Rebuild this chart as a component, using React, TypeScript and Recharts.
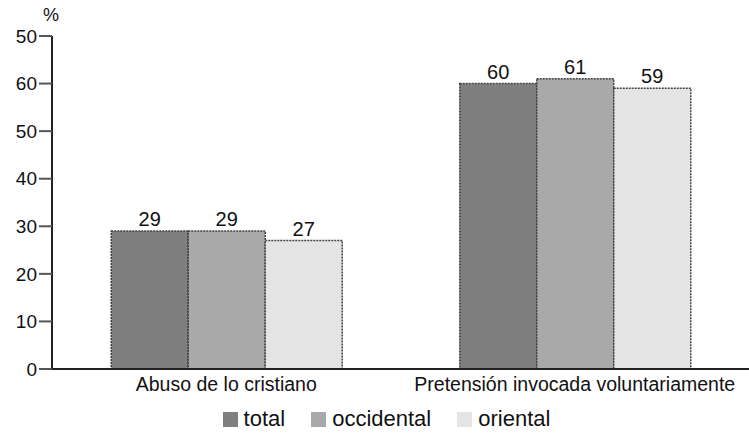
import React from 'react';
import { BarChart, Bar, XAxis, YAxis, LabelList } from 'recharts';

const categories = ['Abuso de lo cristiano', 'Pretensión invocada voluntariamente'];
const total = [29, 60];
const occidental = [29, 61];
const oriental = [27, 59];

const yTicks = [0, 10, 20, 30, 40, 50, 60, 70];
const yTickLabels = ['0', '10', '20', '30', '40', '50', '60', '50'];

const series = [
    { key: 'total', name: 'total', fill: '#7f7f7f' },
    { key: 'occidental', name: 'occidental', fill: '#a9a9a9' },
    { key: 'oriental', name: 'oriental', fill: '#e4e4e4' },
];

const data = categories.map((name, i) => ({
    name,
    total: total[i],
    occidental: occidental[i],
    oriental: oriental[i],
}));

const font = '"Liberation Sans", Arial, sans-serif';

const ChartLegend: React.FC = () => (
    <div style={{ position: 'absolute', left: 12, top: 406, width: 749, display: 'flex', justifyContent: 'center', gap: 26, fontFamily: font, fontSize: 22, color: '#111', lineHeight: '26px' }}>
        {series.map((s) => (
            <span key={s.key} style={{ display: 'flex', alignItems: 'center' }}>
                <span style={{ width: 15, height: 15, background: s.fill, display: 'inline-block', marginRight: 6 }} />
                {s.name}
            </span>
        ))}
    </div>
);

const App: React.FC = () => {
    return (
        <div style={{ position: 'absolute', left: 0, top: 0, width: 749, height: 434, background: '#fff', overflow: 'hidden' }}>
            <div style={{ position: 'absolute', left: 43, top: 5, fontFamily: font, fontSize: 18, color: '#111' }}>%</div>
            <BarChart
                width={749}
                height={434}
                data={data}
                margin={{ top: 36, right: 0, left: 0, bottom: 0 }}
                barCategoryGap="17%"
                barGap={0}
            >
                <XAxis
                    dataKey="name"
                    height={65}
                    axisLine={{ stroke: '#222', strokeWidth: 2 }}
                    tickLine={false}
                    tick={{ fill: '#111', fontSize: 19.5, fontFamily: font }}
                    tickMargin={2}
                />
                <YAxis
                    width={52}
                    domain={[0, 70]}
                    ticks={yTicks}
                    interval={0}
                    tickFormatter={(v: number) => yTickLabels[yTicks.indexOf(v)]}
                    axisLine={{ stroke: '#222', strokeWidth: 2 }}
                    tickLine={{ stroke: '#555', strokeWidth: 2 }}
                    tickSize={13}
                    tickMargin={2}
                    tick={{ fill: '#111', fontSize: 19, fontFamily: font }}
                />
                {series.map((s) => (
                    <Bar
                        key={s.key}
                        dataKey={s.key}
                        name={s.name}
                        fill={s.fill}
                        stroke="#444"
                        strokeWidth={1.5}
                        strokeDasharray="2 1"
                        isAnimationActive={false}
                    >
                        <LabelList
                            dataKey={s.key}
                            position="top"
                            offset={5}
                            style={{ fill: '#111', fontSize: 20, fontFamily: font }}
                        />
                    </Bar>
                ))}
            </BarChart>
            <ChartLegend />
        </div>
    );
};

export default App;
